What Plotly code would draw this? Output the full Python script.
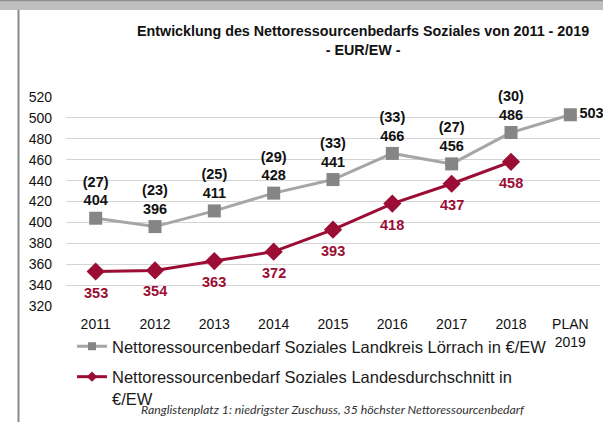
import plotly.graph_objects as go

categories = ["2011", "2012", "2013", "2014", "2015", "2016", "2017", "2018", "PLAN<br>2019"]
loerrach = [404, 396, 411, 428, 441, 466, 456, 486, 503]
ranks = ["27", "23", "25", "29", "33", "33", "27", "30", None]
landes = [353, 354, 363, 372, 393, 418, 437, 458]
y_ticks = [320, 340, 360, 380, 400, 420, 440, 460, 480, 500, 520]

name_lk = "Nettoressourcenbedarf Soziales Landkreis Lörrach in €/EW"
name_ld = "Nettoressourcenbedarf Soziales Landesdurchschnitt in<br>€/EW"
title_text = "<b>Entwicklung des Nettoressourcenbedarfs Soziales von 2011 - 2019<br>- EUR/EW -</b>"
note_text = "<i>Ranglistenplatz 1: niedrigster Zuschuss, 35 höchster Nettoressourcenbedarf</i>"

W, H = 603, 422
ML, MR, MT, MB = 66, 3, 97, 116
PW, PH = W - ML - MR, H - MT - MB

def px(x):
    return (x - ML) / PW

def py(y):
    return (H - MB - y) / PH

GRAY_LINE = "#a6a6a6"
GRAY_MARK = "#858585"
RED = "#9b0d35"
FONT = "Liberation Sans, Arial, sans-serif"

lk_text = []
lk_pos = []
for v, r in zip(loerrach, ranks):
    if r is None:
        lk_text.append(f"{v}")
        lk_pos.append("middle right")
    else:
        lk_text.append(f"({r})<br>{v}")
        lk_pos.append("top center")

fig = go.Figure()
fig.add_trace(go.Scatter(
    x=categories, y=loerrach, name=name_lk, showlegend=False,
    mode="lines+markers+text",
    line=dict(color=GRAY_LINE, width=3),
    marker=dict(symbol="square", size=13, color=GRAY_MARK),
    text=lk_text, textposition=lk_pos,
    textfont=dict(family=FONT, size=14.5, color="#111111", weight="bold"),
    cliponaxis=False,
))
fig.add_trace(go.Scatter(
    x=categories[:len(landes)], y=landes, name=name_ld, showlegend=False,
    mode="lines+markers",
    line=dict(color=RED, width=3),
    marker=dict(symbol="diamond", size=14, color=RED),
    cliponaxis=False,
))
# legend entries with smaller symbols, as in the reference
fig.add_trace(go.Scatter(
    x=[None], y=[None], name=name_lk, legendgroup="a", mode="lines+markers",
    line=dict(color=GRAY_LINE, width=3),
    marker=dict(symbol="square", size=8, color=GRAY_MARK),
))
fig.add_trace(go.Scatter(
    x=[None], y=[None], name=name_ld, legendgroup="b", mode="lines+markers",
    line=dict(color=RED, width=3),
    marker=dict(symbol="diamond", size=8, color=RED),
))

annotations = [
    dict(text=title_text, xref="paper", yref="paper", x=px(363), y=py(21), xanchor="center",
         yanchor="top", showarrow=False, align="center",
         font=dict(family=FONT, size=14.3, color="#111111")),
    dict(text=note_text, xref="paper", yref="paper", x=px(333), y=py(409), xanchor="center",
         yanchor="middle", showarrow=False,
         font=dict(family="Lato, Carlito, sans-serif", size=12.3, color="#333333")),
]
for i, v in enumerate(landes):
    annotations.append(dict(
        text=f"<b>{v}</b>", x=i, y=v, xref="x", yref="y", showarrow=False,
        yshift=-21, xanchor="center", yanchor="middle",
        font=dict(family=FONT, size=14.5, color=RED),
    ))

shapes = [
    dict(type="rect", xref="paper", yref="paper", x0=px(-5), x1=px(W + 5), y0=py(10), y1=py(-5),
         fillcolor="#bfbfbf", line=dict(width=0), layer="above"),
    dict(type="line", xref="paper", yref="paper", x0=px(-5), x1=px(W + 5), y0=py(0.5), y1=py(0.5),
         line=dict(color="#8f8f8f", width=1.5)),
    dict(type="line", xref="paper", yref="paper", x0=px(18.5), x1=px(18.5), y0=py(10), y1=py(H + 5),
         line=dict(color="#8a8a8a", width=2)),
]

fig.update_layout(
    width=W, height=H,
    margin=dict(l=ML, r=MR, t=MT, b=MB, pad=0, autoexpand=False),
    paper_bgcolor="white", plot_bgcolor="white",
    font=dict(family=FONT, size=14, color="#111111"),
    showlegend=True,
    legend=dict(x=px(72), y=py(329), xanchor="left", yanchor="top",
                font=dict(family=FONT, size=16.5, color="#1a1a1a"),
                valign="top", tracegroupgap=6, bgcolor="rgba(0,0,0,0)",
                itemwidth=30),
    shapes=shapes,
    annotations=annotations,
)
fig.update_xaxes(
    type="category", showgrid=False, zeroline=False, showline=False,
    ticks="", tickfont=dict(size=14, color="#111111"), range=[-0.5, 8.5],
    ticklabelstandoff=8,
)
fig.update_yaxes(
    range=[320, 520], tickvals=y_ticks, showgrid=True, gridcolor="#d4d4d4", gridwidth=1.2,
    zeroline=False, showline=False, ticks="", ticklabelstandoff=13,
    tickfont=dict(size=14, color="#111111"),
)

fig.write_html(
    "out.html",
    config={"displayModeBar": False},
    post_script="document.body.style.margin='0';document.body.style.overflow='hidden';",
)
